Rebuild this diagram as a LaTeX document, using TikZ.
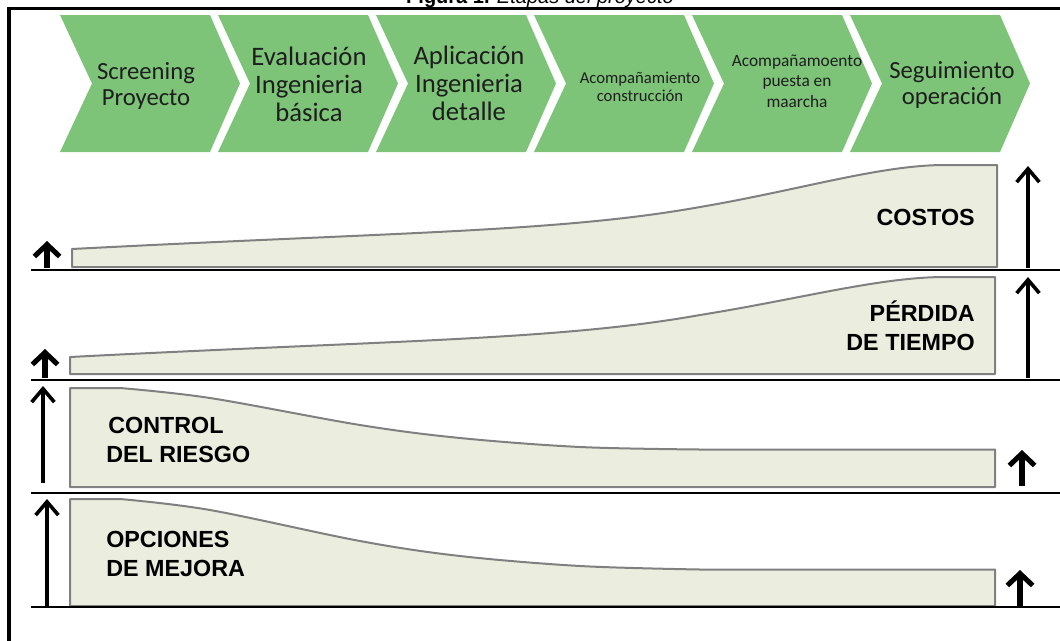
\documentclass[tikz,border=0pt]{standalone}
\usepackage{fontspec}
\setmainfont{Liberation Sans}
\newfontfamily\chevfont{Carlito}
\usetikzlibrary{arrows.meta}
\definecolor{chevgreen}{RGB}{125,196,121}
\definecolor{panelfill}{RGB}{235,238,223}
\definecolor{panelgray}{RGB}{128,128,128}
\definecolor{chevtext}{RGB}{30,30,30}
\tikzset{
  chev/.style={fill=chevgreen},
  chevtxt/.style={font=\chevfont\fontsize{18.5}{20}\selectfont, text=chevtext, align=center, inner sep=0pt},
  chevbig/.style={font=\chevfont\fontsize{20}{21}\selectfont, text=chevtext, align=center, inner sep=0pt},
  chevsmall/.style={font=\chevfont\fontsize{12.5}{13.5}\selectfont, text=chevtext, align=center, inner sep=0pt},
  panel/.style={fill=panelfill, draw=panelgray, line width=1.5pt, line join=round},
  ptxt/.style={font=\bfseries\fontsize{17.5}{22}\selectfont, inner sep=0pt},
  rule/.style={line width=1.5pt},
  bigarrow/.style={line width=2.7pt, -{Straight Barb[length=10pt,width=17pt]}},
  smallarrow/.style={line width=3.8pt, -{Straight Barb[length=9pt,width=19pt]}},
}
\begin{document}
\begin{tikzpicture}[x=0.75pt,y=-0.75pt]
\useasboundingbox (0,0) rectangle (1060,640);
\clip (0,0) rectangle (1060,640);
% caption (clipped at top)
\node[anchor=base, inner sep=0pt, font=\fontsize{15}{18}\selectfont] (cap) at (540,3) {\textbf{Figura 1.} \textit{Etapas del proyecto}};
% frame
\draw[line width=2.8pt] (9,645) -- (9,8.5) -- (1065,8.5);
% chevrons
\foreach \L in {60,218,376,534,692,850}{
  \path[chev] (\L,15) -- ++(150,0) -- ++(30,68.5) -- ++(-30,68.5) -- ++(-150,0) -- ++(32,-68.5) -- cycle;
}
\node[chevtxt] (c1) at (146,86) {Screening\\Proyecto};
\node[chevbig] (c2) at (309,84) {Evaluación\\Ingenieria\\básica};
\node[chevbig] (c3) at (469,83) {Aplicación\\Ingenieria\\detalle};
\node[chevsmall] (c4) at (640,87) {Acompañamiento\\construcción};
\node[chevsmall, font=\chevfont\fontsize{13}{15.5}\selectfont] (c5) at (797,81) {Acompañamoento\\puesta en\\maarcha};
\node[chevtxt] (c6) at (952,85) {Seguimiento\\operación};
% panels
\draw[panel] (72,267) -- (72,249) .. controls (400,232) and (560,232) .. (700,207) .. controls (800,190) and (880,165) .. (945,165) -- (997,165) -- (997,267) -- cycle;
\draw[panel] (70,374) -- (70,357) .. controls (400,340) and (560,340) .. (700,315) .. controls (800,299) and (880,277) .. (945,277) -- (995,277) -- (995,374) -- cycle;
\draw[panel] (70,487) -- (70,388) -- (120,388) -- plot[smooth, tension=0.55] coordinates {(120,388) (210,398) (360,425) (460,438) (580,447) (700,449.5)} -- (995,449.5) -- (995,487) -- cycle;
\draw[panel] (70,606) -- (70,499) -- (120,499) -- plot[smooth, tension=0.55] coordinates {(120,499) (210,510) (360,541) (460,556) (580,566) (700,569.5)} -- (995,569.5) -- (995,606) -- cycle;
% panel labels
\node[ptxt, anchor=east] (costos) at (975,217) {COSTOS};
\node[ptxt, anchor=east, align=right] (perdida) at (975,326) {PÉRDIDA\\DE TIEMPO};
\node[ptxt, anchor=west, align=left] (control) at (106,440) {\hspace{1.5pt}CONTROL\\DEL RIESGO};
\node[ptxt, anchor=west, align=left] (opciones) at (106,554) {OPCIONES\\DE MEJORA};
% base rules
\coordinate (r1a) at (31,270); \coordinate (r1b) at (1065,270);
\coordinate (r2a) at (31,380); \coordinate (r2b) at (1065,380);
\coordinate (r3a) at (31,493); \coordinate (r3b) at (1065,493);
\coordinate (r4a) at (31,607); \coordinate (r4b) at (1065,607);
\draw[rule] (r1a) -- (r1b);
\draw[rule] (r2a) -- (r2b);
\draw[rule] (r3a) -- (r3b);
\draw[rule] (r4a) -- (r4b);
% arrows
\coordinate (s1a) at (47,268); \coordinate (s1b) at (47,241);
\coordinate (s2a) at (45,378); \coordinate (s2b) at (45,349);
\coordinate (b1a) at (1028,268); \coordinate (b1b) at (1028,166);
\coordinate (b2a) at (1028,378); \coordinate (b2b) at (1028,277);
\coordinate (b3a) at (43,483); \coordinate (b3b) at (43,386);
\coordinate (b4a) at (47,608); \coordinate (b4b) at (47,499);
\coordinate (s3a) at (1022,486); \coordinate (s3b) at (1022,450);
\coordinate (s4a) at (1020,608); \coordinate (s4b) at (1020,570);
\draw[smallarrow] (s1a) -- (s1b);
\draw[smallarrow] (s2a) -- (s2b);
\draw[bigarrow] (b1a) -- (b1b);
\draw[bigarrow] (b2a) -- (b2b);
\draw[bigarrow] (b3a) -- (b3b);
\draw[bigarrow] (b4a) -- (b4b);
\draw[smallarrow] (s3a) -- (s3b);
\draw[smallarrow] (s4a) -- (s4b);
\end{tikzpicture}
\end{document}
